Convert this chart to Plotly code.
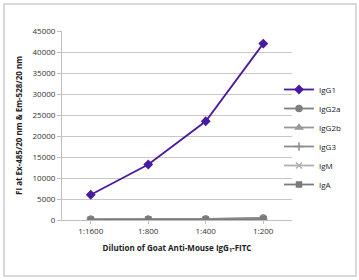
import plotly.graph_objects as go

dilutions = ["1:1600", "1:800", "1:400", "1:200"]
igg1 = [6000, 13200, 23500, 42000]
igg2a = [150, 200, 250, 500]
igg2b = [100, 150, 200, 350]
igg3 = [100, 120, 180, 300]
igm = [80, 100, 150, 250]
iga = [60, 90, 130, 200]

series = [
    ("IgG1", igg1, "#4a1aa0", "diamond", 6),
    ("IgG2a", igg2a, "#7f7f7f", "circle", 6),
    ("IgG2b", igg2b, "#999999", "triangle-up", 6),
    ("IgG3", igg3, "#8c8c8c", "cross-thin-open", 6),
    ("IgM", igm, "#b0b0b0", "x-thin-open", 6),
    ("IgA", iga, "#7a7a7a", "square", 5),
]

fig = go.Figure()
for name, vals, col, sym, sz in series:
    fig.add_trace(go.Scatter(
        x=dilutions, y=vals, name=name, mode="lines+markers",
        line=dict(color=col, width=1.8),
        marker=dict(symbol=sym, size=sz, color=col, line=dict(color=col, width=1.5)),
    ))

L, R, T, B = 62, 67, 31, 60
W, H = 359, 280
pw, ph = W - L - R, H - T - B

def px(x):
    return (x - L) / pw

def py(y):
    return (H - B - y) / ph

fig.update_layout(
    width=W, height=H,
    margin=dict(l=L, r=R, t=T, b=B, autoexpand=False),
    paper_bgcolor="white", plot_bgcolor="white",
    font=dict(family="Open Sans", size=8, color="#333333"),
    showlegend=True,
    legend=dict(x=px(279), y=py(75), xanchor="left", yanchor="top",
                font=dict(size=8, color="#222222"), bgcolor="rgba(0,0,0,0)",
                itemwidth=30, tracegroupgap=0),
    xaxis=dict(
        type="category", range=[-0.5, 3.5], automargin=False,
        showgrid=False, showline=True, linecolor="#bfbfbf", linewidth=1,
        ticks="outside", ticklen=3, tickcolor="#bfbfbf",
        tickfont=dict(size=8, color="#333333"),
        title=dict(text="<b>Dilution of Goat Anti-Mouse IgG<sub>1</sub>-FITC</b>",
                   font=dict(size=8, color="#222222"), standoff=10),
    ),
    yaxis=dict(
        range=[0, 45000], dtick=5000, tickformat="d", automargin=False,
        showgrid=True, gridcolor="#c8c8c8", gridwidth=1,
        showline=True, linecolor="#bfbfbf", linewidth=1,
        ticks="outside", ticklen=4, tickcolor="#bfbfbf",
        tickfont=dict(size=8, color="#333333"), zeroline=False,
        title=dict(text="<b>FI at Ex-485/20 nm & Em-528/20 nm</b>",
                   font=dict(size=8, color="#222222"), standoff=8),
    ),
    annotations=[dict(xref="paper", yref="paper", x=px(179.5), y=py(140),
                      xanchor="center", yanchor="middle", text=" ",
                      showarrow=False, width=350, height=270,
                      bordercolor="#d9d9d9", borderwidth=2, borderpad=0)],
)

fig.write_html("out.html", config={"displayModeBar": False},
               post_script="document.body.style.margin='0';")
